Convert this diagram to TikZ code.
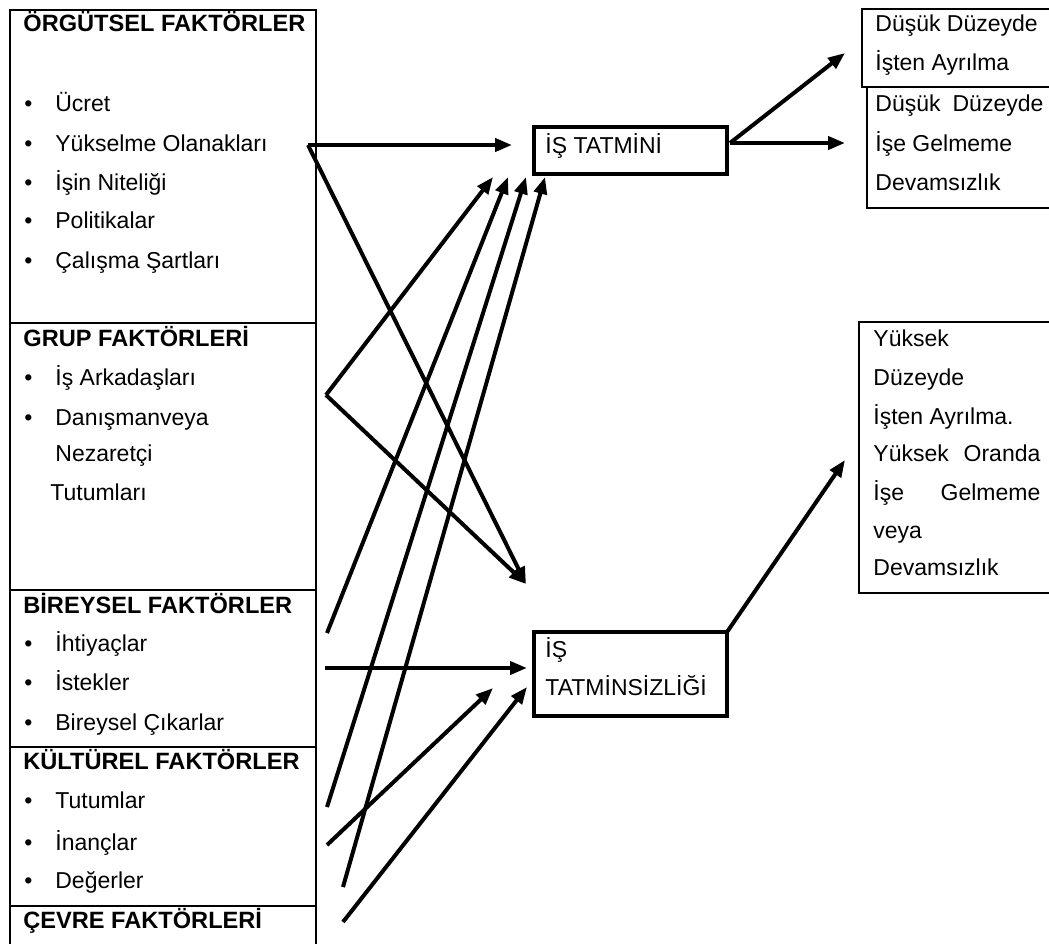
\documentclass[tikz,border=0pt]{standalone}
\usepackage{fontspec}
\setmainfont{Liberation Sans}
\usetikzlibrary{arrows.meta}
\begin{document}
\begin{tikzpicture}[x=0.5pt,y=-0.5pt,
  txt/.style={anchor=base west, inner sep=0pt, font=\fontsize{11.5}{14}\selectfont},
  head/.style={txt, font=\fontsize{11.8}{14}\selectfont\bfseries},
  item/.style={txt, execute at begin node={\llap{\textbullet\hspace{11.5pt}}}},
  panel/.style={line width=0.75pt},
  core/.style={draw, line width=2.3pt, inner sep=0pt, outer sep=0pt, anchor=north west},
  link/.style={line width=2pt, -{Triangle[length=8.5pt,width=6.5pt]}},
]
\useasboundingbox (0,0) rectangle (1049,943);
\clip (0,0) rectangle (1049,943);

% left column of factor groups
\draw[panel] (10,960) -- (10,10) -- (316,10) -- (316,960);
\foreach \yy in {323,590,747,906} \draw[panel] (10,\yy) -- (316,\yy);

\node[head] (org) at (23,31) {ÖRGÜTSEL FAKTÖRLER};
\node[item] (org1) at (55,111) {Ücret};
\node[item] (org2) at (55,151) {Yükselme Olanakları};
\node[item] (org3) at (55,190) {İşin Niteliği};
\node[item] (org4) at (55,228) {Politikalar};
\node[item] (org5) at (55,268) {Çalışma Şartları};

\node[head] (grp) at (23,346) {GRUP FAKTÖRLERİ};
\node[item] (grp1) at (55,385) {İş Arkadaşları};
\node[item] (grp2) at (55,425) {Danışmanveya};
\node[txt] (grp3) at (55,461) {Nezaretçi};
\node[txt] (grp4) at (50,500) {Tutumları};

\node[head] (bir) at (23,613) {BİREYSEL FAKTÖRLER};
\node[item] (bir1) at (55,651) {İhtiyaçlar};
\node[item] (bir2) at (55,690) {İstekler};
\node[item] (bir3) at (55,730) {Bireysel Çıkarlar};

\node[head] (kul) at (23,769) {KÜLTÜREL FAKTÖRLER};
\node[item] (kul1) at (55,808) {Tutumlar};
\node[item] (kul2) at (55,850) {İnançlar};
\node[item] (kul3) at (55,888) {Değerler};

\node[head] (cev) at (23,928) {ÇEVRE FAKTÖRLERİ};

% the two outcome states
\node[core, minimum width=96.5pt, minimum height=23.5pt] (sat) at (534,127) {};
\node[txt] (satlabel) at (545,153) {İŞ TATMİNİ};
\node[core, minimum width=96.5pt, minimum height=42pt] (dis) at (534,632) {};
\node[txt] (dislabel1) at (545,657) {İŞ};
\node[txt] (dislabel2) at (545,695) {TATMİNSİZLİĞİ};

% results on the right
\draw[panel] (862,9) rectangle (1070,87);
\node[txt] (low1a) at (875,31) {Düşük Düzeyde};
\node[txt] (low1b) at (875,70) {İşten Ayrılma};
\draw[panel] (867,87) rectangle (1070,208);
\node[txt] (low2a) at (875,111) {\makebox[84pt][l]{Düşük\hfill Düzeyde}};
\node[txt] (low2b) at (875,151) {İşe Gelmeme};
\node[txt] (low2c) at (875,190) {Devamsızlık};
\draw[panel] (859,322) rectangle (1070,593);
\node[txt] (high1) at (873,346) {Yüksek};
\node[txt] (high2) at (873,385) {Düzeyde};
\node[txt] (high3) at (873,424) {İşten Ayrılma.};
\node[txt] (high4) at (873,461) {\makebox[83.5pt][l]{Yüksek\hfill Oranda}};
\node[txt] (high5) at (873,500) {\makebox[83.5pt][l]{İşe\hfill Gelmeme}};
\node[txt] (high6) at (873,538) {veya};
\node[txt] (high7) at (873,575) {Devamsızlık};

% connector ends
\coordinate (o1) at (308,145);
\coordinate (vtx) at (326,395);
\coordinate (s1) at (327,633);
\coordinate (s2) at (325,668);
\coordinate (s3) at (327,807);
\coordinate (s4) at (327,845);
\coordinate (s5) at (343,887);
\coordinate (s6) at (343,922);
\coordinate (t1) at (512,145);
\coordinate (t2) at (493,177);
\coordinate (t3) at (508,177);
\coordinate (t4) at (526,177);
\coordinate (t5) at (545,177);
\coordinate (u1) at (526,584);
\coordinate (u2) at (527,668);
\coordinate (u3) at (493,688);
\coordinate (u4) at (527,687);
\coordinate (r0) at (730,143);
\coordinate (r1) at (845,53);
\coordinate (r2) at (845,143);
\coordinate (r3) at (845,460);

% factor links
\draw[link] (o1) -- (t1);
\draw[link] (o1) -- (u1);
\draw[link] (vtx) -- (t2);
\draw[link] (vtx) -- (u1);
\draw[link] (s1) -- (t3);
\draw[link] (s3) -- (t4);
\draw[link] (s5) -- (t5);
\draw[link] (s2) -- (u2);
\draw[link] (s4) -- (u3);
\draw[link] (s6) -- (u4);

% outcome links
\draw[link] (r0) -- (r1);
\draw[link] (r0) -- (r2);
\draw[link] (dis.north east) -- (r3);
\end{tikzpicture}
\end{document}
